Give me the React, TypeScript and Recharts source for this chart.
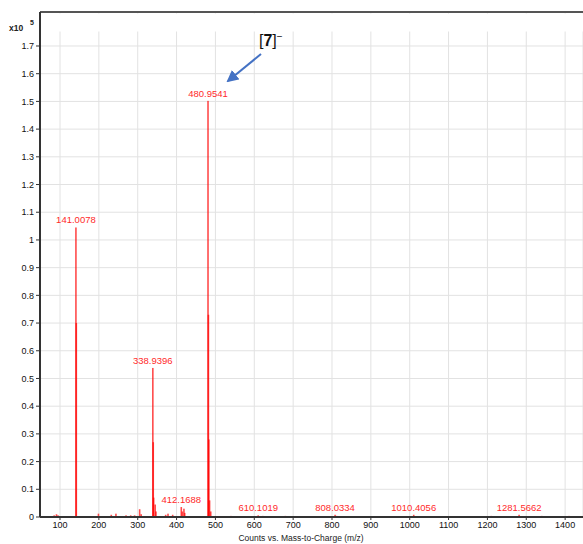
import React from 'react';
import {
  ComposedChart,
  Bar,
  XAxis,
  YAxis,
  CartesianGrid,
  LabelList,
  ReferenceLine,
} from 'recharts';

// m/z of every stick in the spectrum
const peakMz = [
  85, 91, 95, 141.0078, 142.01, 199, 232, 244, 270, 282, 292, 305, 309,
  338.9396, 340.0, 341, 345, 347, 372, 378, 390, 412.1688, 415, 419, 421,
  480.9541, 482.0, 483, 485, 488, 540, 610.1019, 622, 680, 760, 808.0334,
  812, 905, 950, 1010.4056, 1060, 1210, 1281.5662, 1340, 1355, 1410,
];

// intensity in counts x10^5, same order as peakMz
const peakCounts = [
  0.006, 0.01, 0.006, 1.045, 0.7, 0.012, 0.008, 0.012, 0.006, 0.006, 0.006, 0.028, 0.01,
  0.538, 0.27, 0.07, 0.045, 0.02, 0.008, 0.012, 0.008, 0.036, 0.02, 0.03, 0.015,
  1.502, 0.73, 0.28, 0.06, 0.02, 0.004, 0.006, 0.004, 0.004, 0.003, 0.008,
  0.004, 0.003, 0.003, 0.008, 0.003, 0.004, 0.008, 0.004, 0.003, 0.004,
];

// peaks that get an m/z label
const labelledMz = [141.0078, 338.9396, 412.1688, 480.9541, 610.1019, 808.0334, 1010.4056, 1281.5662];

const xTicks = [100, 200, 300, 400, 500, 600, 700, 800, 900, 1000, 1100, 1200, 1300, 1400];
const yTicks = [0, 0.1, 0.2, 0.3, 0.4, 0.5, 0.6, 0.7, 0.8, 0.9, 1, 1.1, 1.2, 1.3, 1.4, 1.5, 1.6, 1.7];

const Y_MAX = 1.8227;

const data = peakMz.map((mz, i) => ({
  mz,
  counts: peakCounts[i],
  label: labelledMz.includes(mz) ? mz.toFixed(4) : '',
}));

const FONT = '"Liberation Sans", Arial, sans-serif';
const tickStyle = { fontSize: 9, fill: '#111', fontFamily: FONT };

// draw each peak as a thin stick centred on its m/z
const Stick = (props: any) => {
  const { x, y, width, height } = props;
  if (!height || height <= 0) return null;
  return <rect x={x + width / 2 - 0.8} y={y} width={1.6} height={height} fill="#ff0000" fillOpacity={0.7} />;
};

const PeakLabel = (props: any) => {
  const { x, y, width, value } = props;
  if (!value) return null;
  return (
    <text
      x={Number(x) + Number(width) / 2}
      y={Number(y) - 4}
      textAnchor="middle"
      fontSize={9.5}
      fontFamily={FONT}
      fill="#ff2a2a"
    >
      {value}
    </text>
  );
};

export default function App() {
  return (
    <div style={{ position: 'absolute', left: 0, top: 0, width: 583, height: 544, background: '#fff' }}>
      <ComposedChart
        width={583}
        height={544}
        data={data}
        margin={{ top: 12, right: 0, bottom: 0, left: 0 }}
        barSize={2}
      >
        <CartesianGrid stroke="#e2e2e2" strokeWidth={1} />
        <XAxis
          dataKey="mz"
          type="number"
          domain={[48.5, 1446]}
          ticks={xTicks}
          height={27}
          tick={tickStyle}
          tickSize={3}
          tickLine={{ stroke: '#333' }}
          axisLine={{ stroke: '#333', strokeWidth: 2 }}
          allowDataOverflow
        />
        <YAxis
          type="number"
          domain={[0, Y_MAX]}
          ticks={yTicks}
          width={40}
          tick={tickStyle}
          tickSize={4}
          tickLine={{ stroke: '#333' }}
          axisLine={{ stroke: '#333', strokeWidth: 2 }}
          allowDataOverflow
        />
        <ReferenceLine y={Y_MAX} stroke="#555" strokeWidth={2} />
        <Bar dataKey="counts" shape={Stick} isAnimationActive={false}>
          <LabelList dataKey="label" content={PeakLabel} />
        </Bar>
      </ComposedChart>

      {/* axis title, intensity exponent and the [7]- annotation */}
      <svg
        width={583}
        height={544}
        style={{ position: 'absolute', left: 0, top: 0, pointerEvents: 'none' }}
      >
        {/* grid stops short of the frame's top edge */}
        <rect x={41} y={13.5} width={542} height={18} fill="#fff" />
        <text x={301} y={541} textAnchor="middle" fontSize={8.5} fontFamily={FONT} fill="#222">
          Counts vs. Mass-to-Charge (m/z)
        </text>
        <text x={9} y={31} fontSize={8.5} fontFamily={FONT} fill="#222" fontWeight="bold">
          x10
        </text>
        <text x={30} y={25} fontSize={7} fontFamily={FONT} fill="#222" fontWeight="bold">
          5
        </text>
        <text x={259} y={46} fontSize={16} fontFamily={FONT} fill="#111">
          [<tspan fontWeight="bold">7</tspan>]
          <tspan dy={-6} fontSize={10}>−</tspan>
        </text>
        <defs>
          <marker id="arrowHead" markerWidth="6" markerHeight="6" refX="5" refY="3" orient="auto">
            <path d="M0,0 L6,3 L0,6 Z" fill="#4472c4" />
          </marker>
        </defs>
        <line
          x1={261}
          y1={54}
          x2={228}
          y2={81}
          stroke="#4472c4"
          strokeWidth={2}
          markerEnd="url(#arrowHead)"
        />
      </svg>
    </div>
  );
}
